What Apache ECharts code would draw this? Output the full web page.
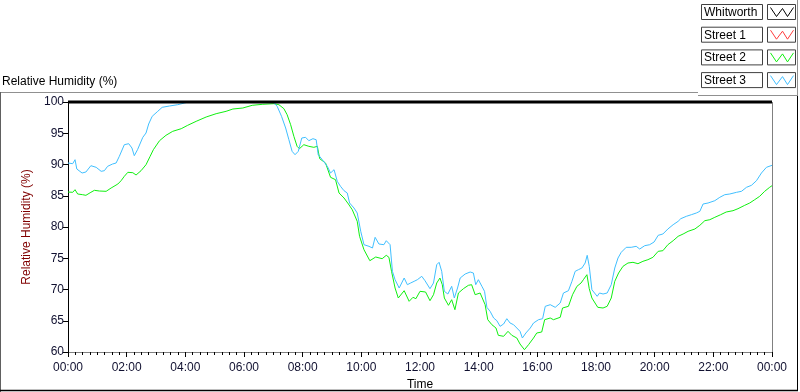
<!DOCTYPE html>
<html><head><meta charset="utf-8">
<script src="https://cdn.jsdelivr.net/npm/echarts@6/dist/echarts.min.js"></script>
<style>html,body{margin:0;padding:0;background:#fff}#c{width:800px;height:392px}</style>
</head><body><div id="c"></div>
<script>
const seriesNames = ['Whitworth', 'Street 1', 'Street 2', 'Street 3'];
const xTickHours = [0, 2, 4, 6, 8, 10, 12, 14, 16, 18, 20, 22, 24];
const yTicks = [60, 65, 70, 75, 80, 85, 90, 95, 100];

const whitworthHours = [0, 24];
const whitworthValues = [100, 100];

const street3Hours = [0.00,0.16,0.24,0.30,0.48,0.61,0.78,0.96,1.13,1.24,1.35,1.52,1.64,1.75,1.92,2.07,2.18,2.26,2.37,2.55,2.66,2.75,2.87,3.06,3.21,3.46,3.74,3.97,4.10,7.00,7.13,7.28,7.42,7.53,7.64,7.74,7.85,7.97,8.10,8.21,8.35,8.46,8.53,8.67,8.84,8.95,9.07,9.18,9.29,9.41,9.52,9.60,9.75,9.86,9.98,10.09,10.26,10.38,10.47,10.60,10.77,10.85,10.98,11.06,11.15,11.29,11.46,11.57,11.68,11.80,11.91,12.06,12.17,12.34,12.46,12.57,12.65,12.74,12.83,12.95,13.08,13.17,13.28,13.37,13.54,13.71,13.82,13.90,13.99,14.11,14.20,14.28,14.39,14.51,14.62,14.73,14.85,14.96,15.07,15.19,15.30,15.41,15.49,15.61,15.76,15.87,16.04,16.18,16.27,16.44,16.61,16.78,16.89,17.06,17.18,17.29,17.40,17.52,17.63,17.70,17.77,17.86,18.04,18.12,18.24,18.38,18.52,18.64,18.75,18.86,19.03,19.20,19.37,19.49,19.66,19.83,19.98,20.12,20.28,20.45,20.63,20.80,20.89,21.08,21.25,21.42,21.54,21.65,21.82,22.05,22.22,22.39,22.56,22.79,22.96,23.13,23.30,23.47,23.64,23.81,24.00];
const street3Values = [90.24,90.13,90.77,89.28,88.64,88.80,89.81,89.55,88.91,89.01,89.71,90.08,90.24,91.31,93.17,93.33,92.64,91.41,92.37,94.35,95.04,96.48,97.71,98.51,99.15,99.36,99.57,99.84,100,100,99.31,97.71,95.84,93.97,92.11,91.57,92.11,94.24,94.35,93.81,94.13,93.97,91.57,90.77,89.71,88.64,89.17,87.31,86.51,85.81,85.44,83.84,83.04,82.24,79.31,77.17,76.91,76.64,78.35,77.28,77.17,77.81,77.17,72.91,71.57,70.24,71.84,70.77,71.04,71.31,71.57,72.11,71.41,70.13,71.04,73.97,74.35,72.91,69.71,69.28,70.51,68.64,70.24,71.84,72.48,72.80,72.64,70.77,71.57,70.51,69.71,67.15,66.51,65.44,65.01,64.11,64.48,65.33,64.64,64.37,63.84,63.31,62.24,63.04,63.84,64.64,65.17,65.33,67.31,67.57,67.15,67.84,69.44,69.81,71.31,72.91,73.17,73.44,74.24,75.47,73.71,69.97,68.91,69.44,69.28,69.44,70.77,73.44,75.04,75.95,76.75,76.75,76.91,76.48,77.01,77.17,77.60,78.67,78.88,79.68,80.37,80.91,81.33,81.71,81.97,82.24,82.51,83.68,83.84,84.21,84.75,85.17,85.28,85.55,85.71,86.35,86.67,87.41,88.64,89.55,89.87];

const street2Hours = [0.00,0.16,0.24,0.33,0.50,0.61,0.78,0.90,1.07,1.30,1.47,1.70,1.81,1.92,2.04,2.21,2.32,2.49,2.66,2.80,2.91,3.12,3.34,3.57,3.86,4.08,4.37,4.71,5.05,5.39,5.62,5.96,6.28,6.62,7.02,7.19,7.36,7.47,7.59,7.70,7.81,7.89,8.04,8.21,8.38,8.50,8.58,8.78,8.95,9.12,9.24,9.41,9.56,9.69,9.86,9.94,10.09,10.29,10.49,10.71,10.85,10.94,11.03,11.15,11.26,11.46,11.63,11.76,11.86,12.00,12.06,12.19,12.34,12.46,12.57,12.68,12.76,12.83,12.97,13.08,13.19,13.31,13.48,13.65,13.76,13.88,14.05,14.22,14.31,14.45,14.59,14.67,14.85,15.00,15.13,15.30,15.41,15.56,15.70,15.87,15.98,16.15,16.25,16.44,16.55,16.78,16.86,17.06,17.20,17.35,17.49,17.57,17.69,17.77,17.86,18.06,18.24,18.38,18.52,18.64,18.77,18.92,19.09,19.26,19.43,19.60,19.77,19.94,20.12,20.28,20.45,20.63,20.80,20.97,21.14,21.37,21.54,21.71,21.88,22.05,22.25,22.44,22.67,22.84,23.07,23.24,23.41,23.58,23.75,23.92,24.00];
const street2Values = [85.60,85.55,85.97,85.28,85.17,85.07,85.55,85.87,85.76,85.71,86.24,86.88,87.41,88.11,88.75,88.69,88.32,89.01,89.97,91.31,92.37,93.81,94.67,95.31,95.73,96.27,96.91,97.60,98.13,98.51,98.88,99.04,99.47,99.63,99.73,99.57,98.93,97.97,96.37,94.51,92.91,92.53,93.17,92.91,92.75,92.91,90.93,90.24,87.95,87.57,85.44,84.64,83.68,82.77,80.91,78.51,76.37,74.61,75.20,74.93,75.47,75.15,72.91,70.24,68.64,69.81,68.11,68.75,68.53,69.71,69.81,69.60,68.21,69.17,71.04,71.84,70.77,68.64,67.47,68.37,66.77,69.44,70.13,70.67,70.77,69.17,69.44,67.57,65.17,64.37,63.84,62.67,62.51,63.31,62.67,62.24,61.28,60.37,61.17,62.24,63.04,63.20,65.17,65.44,65.17,65.55,67.04,67.31,69.17,70.51,71.04,71.57,72.37,70.13,68.64,67.15,67.04,67.31,68.64,71.31,72.64,73.71,74.24,74.35,74.13,74.51,74.77,75.15,76.11,76.21,77.17,77.81,78.51,78.88,79.31,79.68,80.27,81.01,81.17,81.55,81.97,82.40,82.61,82.93,83.47,83.84,84.37,84.91,85.71,86.35,86.61];

const colors = ['#000000', '#ff3b3b', '#10f010', '#40bfff'];
const FONT = 'Liberation Sans';

function pairs(h, v) { return h.map((x, i) => [x, v[i]]); }

const chart = echarts.init(document.getElementById('c'), null, {renderer: 'canvas'});

const legendEls = [];
seriesNames.forEach((n, i) => {
  const y0 = 4 + i * 22.7;
  legendEls.push({type: 'rect', shape: {x: 701.5, y: y0 + 0.5, width: 61, height: 15}, style: {fill: '#fff', stroke: '#404040', lineWidth: 1}});
  legendEls.push({type: 'text', x: 704, y: y0 + 8.5, style: {text: n, font: '12px ' + FONT, fill: '#000', textVerticalAlign: 'middle'}});
  legendEls.push({type: 'rect', shape: {x: 767.5, y: y0 + 0.5, width: 28, height: 15}, style: {fill: '#fff', stroke: '#404040', lineWidth: 1}});
  const bx = 767.5, by = y0 + 0.5;
  legendEls.push({type: 'polyline', shape: {points: [[bx + 3, by + 3], [bx + 9, by + 12], [bx + 15, by + 4], [bx + 20, by + 12], [bx + 26, by + 3]]}, style: {stroke: colors[i], lineWidth: 1, fill: null}});
});

chart.setOption({
  animation: false,
  backgroundColor: '#fff',
  grid: {left: 68, right: 28, top: 102, bottom: 40, containLabel: false, outerBoundsMode: 'none'},
  xAxis: {
    type: 'value', min: 0, max: 24, interval: 2,
    name: 'Time', nameLocation: 'middle', nameGap: 27,
    nameTextStyle: {fontFamily: FONT, fontSize: 12, color: '#000'},
    axisLine: {show: true, onZero: false, lineStyle: {color: '#808080', width: 1}},
    axisTick: {show: true, length: 5, lineStyle: {color: '#000'}},
    minorTick: {show: true, splitNumber: 8, length: 3, lineStyle: {color: '#000'}},
    axisLabel: {fontFamily: FONT, fontSize: 12, color: '#101030', margin: 10,
      formatter: v => String(v % 24).padStart(2, '0') + ':00'},
    splitLine: {show: false}
  },
  yAxis: {
    type: 'value', min: 60, max: 100, interval: 5,
    name: 'Relative Humidity (%)', nameLocation: 'middle', nameGap: 26, nameRotate: 90,
    nameTextStyle: {fontFamily: FONT, fontSize: 12, color: '#800000'},
    axisLine: {show: true, lineStyle: {color: '#000', width: 1}},
    axisTick: {show: true, length: 5, lineStyle: {color: '#000'}},
    axisLabel: {fontFamily: FONT, fontSize: 12, color: '#101030', margin: 4},
    splitLine: {show: false}
  },
  graphic: [
    {type: 'text', left: 2, top: 76, style: {text: 'Relative Humidity (%)', font: '12px ' + FONT, fill: '#000'}},
    {type: 'line', shape: {x1: 0, y1: 92.5, x2: 698, y2: 92.5}, style: {stroke: '#909090', lineWidth: 1}},
    {type: 'line', shape: {x1: 0.5, y1: 92, x2: 0.5, y2: 392}, style: {stroke: '#606060', lineWidth: 1}},
    {type: 'line', shape: {x1: 0, y1: 390.5, x2: 798, y2: 390.5}, style: {stroke: '#000', lineWidth: 1.5}},
    {type: 'line', shape: {x1: 797.5, y1: 95, x2: 797.5, y2: 391}, style: {stroke: '#000', lineWidth: 1}},
    {type: 'line', shape: {x1: 698, y1: 95.5, x2: 798, y2: 95.5}, style: {stroke: '#909090', lineWidth: 1}},
    {type: 'line', shape: {x1: 797.5, y1: 0, x2: 797.5, y2: 95}, style: {stroke: '#909090', lineWidth: 1}},
    {type: 'line', shape: {x1: 772.5, y1: 102, x2: 772.5, y2: 352}, style: {stroke: '#808080', lineWidth: 1}},
    ...legendEls
  ],
  series: [
    {name: 'Street 2', type: 'line', data: pairs(street2Hours, street2Values), showSymbol: false, z: 2,
      lineStyle: {color: colors[2], width: 1}},
    {name: 'Street 3', type: 'line', data: pairs(street3Hours, street3Values), showSymbol: false, z: 3,
      lineStyle: {color: colors[3], width: 1}},
    {name: 'Whitworth', type: 'line', data: pairs(whitworthHours, whitworthValues), showSymbol: false, z: 4, clip: false,
      lineStyle: {color: colors[0], width: 3}}
  ]
});
</script></body></html>
